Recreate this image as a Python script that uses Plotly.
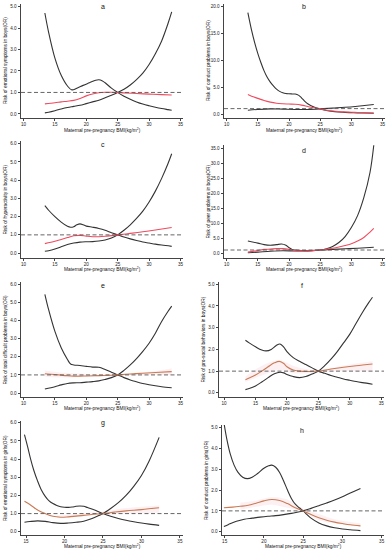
import plotly.graph_objects as go

W, H = 387, 550

# ---------------- data ----------------
# Panel a: emotional symptoms, boys
a_up_x = [13.4, 14, 15, 16, 17, 17.7, 18.5, 19.5, 20.5, 21.5, 22, 22.5, 23, 24, 25, 26, 27, 28, 29, 30, 31, 32, 33, 33.6]
a_up_y = [4.7, 3.8, 2.6, 1.8, 1.3, 1.12, 1.2, 1.33, 1.45, 1.57, 1.59, 1.55, 1.45, 1.2, 1.0, 0.82, 0.68, 0.56, 0.46, 0.38, 0.31, 0.25, 0.2, 0.17]
a_lo_x = [13.4, 14, 15, 16, 17, 18, 19, 20, 21, 22, 23, 24, 25, 26, 27, 28, 29, 30, 31, 32, 33, 33.6]
a_lo_y = [0.05, 0.08, 0.15, 0.23, 0.3, 0.35, 0.4, 0.48, 0.56, 0.64, 0.75, 0.87, 1.0, 1.15, 1.35, 1.6, 1.9, 2.3, 2.8, 3.4, 4.2, 4.75]
a_mid_x = [13.4, 15, 16, 17, 18, 19, 20, 21, 22, 23, 24, 25, 26, 28, 30, 32, 33.6]
a_mid_y = [0.47, 0.52, 0.56, 0.59, 0.63, 0.72, 0.84, 0.93, 0.99, 1.01, 1.01, 1.0, 0.98, 0.95, 0.92, 0.9, 0.88]

# Panel b: conduct problems, boys
b_up_x = [13.4, 14, 14.5, 15, 15.5, 16, 16.5, 17, 17.5, 18, 18.5, 19, 19.5, 20, 20.5, 21, 21.5, 22, 22.5, 23, 24, 25, 26, 27, 28, 29, 30, 31, 32, 33.6]
b_up_y = [18.8, 15.5, 13.2, 11.2, 9.5, 8.0, 6.8, 5.9, 5.2, 4.6, 4.2, 3.95, 3.8, 3.75, 3.72, 3.7, 3.5, 3.0, 2.4, 1.9, 1.3, 0.95, 0.65, 0.48, 0.38, 0.3, 0.25, 0.2, 0.18, 0.15]
b_lo_x = [13.4, 15, 17, 19, 21, 23, 25, 27, 29, 31, 33.6]
b_lo_y = [0.7, 0.85, 0.95, 0.9, 0.85, 0.85, 0.95, 1.1, 1.25, 1.45, 1.75]
b_mid_x = [13.4, 14, 15, 16, 17, 18, 19, 20, 21, 22, 23, 24, 25, 26, 27, 28, 29, 30, 31, 32, 33.6]
b_mid_y = [3.6, 3.3, 2.9, 2.5, 2.2, 2.0, 1.9, 1.85, 1.8, 1.65, 1.4, 1.15, 0.95, 0.7, 0.55, 0.45, 0.38, 0.32, 0.28, 0.25, 0.2]

# Panel c: hyperactivity, boys
c_up_x = [13.4, 14, 15, 16, 17, 17.5, 18, 18.5, 19, 19.5, 20, 21, 22, 23, 24, 25, 26, 27, 28, 29, 30, 31, 32, 33.6]
c_up_y = [2.6, 2.35, 2.0, 1.7, 1.47, 1.42, 1.45, 1.55, 1.6, 1.55, 1.48, 1.42, 1.35, 1.25, 1.12, 1.0, 0.88, 0.78, 0.69, 0.61, 0.55, 0.49, 0.44, 0.37]
c_lo_x = [13.4, 14, 15, 16, 17, 18, 19, 20, 21, 22, 23, 24, 25, 26, 27, 28, 29, 30, 31, 32, 33, 33.6]
c_lo_y = [0.1, 0.13, 0.22, 0.35, 0.47, 0.55, 0.6, 0.62, 0.63, 0.66, 0.72, 0.83, 1.0, 1.25, 1.55, 1.9, 2.3, 2.8, 3.4, 4.1, 4.9, 5.45]
c_mid_x = [13.4, 15, 16, 17, 18, 19, 20, 21, 22, 23, 24, 25, 27, 29, 31, 33.6]
c_mid_y = [0.52, 0.65, 0.75, 0.85, 0.95, 0.97, 0.93, 0.9, 0.9, 0.92, 0.96, 1.0, 1.08, 1.17, 1.27, 1.4]

# Panel d: peer problems, boys
d_up_x = [13.4, 15, 16, 17, 18, 18.8, 19.5, 20, 20.5, 21, 22, 23, 24, 25, 26, 27, 28, 29, 30, 31, 32, 33, 33.6]
d_up_y = [4.0, 3.3, 2.8, 2.6, 2.8, 3.0, 2.6, 1.8, 1.2, 1.0, 0.85, 0.8, 0.85, 1.0, 1.4, 2.2, 3.5, 5.5, 8.5, 12.5, 18.5, 27.0, 36.0]
d_lo_x = [13.4, 15, 17, 19, 21, 23, 25, 27, 29, 31, 33.6]
d_lo_y = [0.1, 0.3, 0.6, 0.75, 0.65, 0.7, 1.0, 1.2, 1.4, 1.6, 1.9]
d_mid_x = [13.4, 15, 16, 17, 18, 19, 20, 21, 22, 23, 24, 25, 26, 27, 28, 29, 30, 31, 32, 33, 33.6]
d_mid_y = [0.3, 0.8, 1.2, 1.3, 1.45, 1.45, 1.2, 0.8, 0.7, 0.7, 0.8, 1.0, 1.3, 1.6, 2.0, 2.5, 3.1, 4.0, 5.2, 7.0, 8.2]

# Panel e: total difficult problems, boys
e_up_x = [13.4, 14, 15, 16, 17, 17.5, 18, 19, 20, 21, 22, 23, 24, 25, 26, 27, 28, 29, 30, 31, 32, 33.6]
e_up_y = [5.45, 4.6, 3.4, 2.5, 1.85, 1.6, 1.55, 1.52, 1.47, 1.43, 1.42, 1.3, 1.15, 1.0, 0.85, 0.72, 0.62, 0.53, 0.46, 0.4, 0.35, 0.29]
e_lo_x = [13.4, 15, 16, 17, 18, 19, 20, 21, 22, 23, 24, 25, 26, 27, 28, 29, 30, 31, 32, 33, 33.6]
e_lo_y = [0.22, 0.35, 0.45, 0.53, 0.56, 0.57, 0.6, 0.63, 0.67, 0.75, 0.85, 1.0, 1.25, 1.55, 1.9, 2.3, 2.75, 3.3, 3.95, 4.5, 4.8]
e_mid_x = [13.4, 15, 17, 18, 19, 20, 22, 24, 25, 27, 29, 31, 33.6]
e_mid_y = [1.06, 1.02, 0.95, 0.93, 0.93, 0.94, 0.96, 0.98, 1.0, 1.05, 1.09, 1.13, 1.18]
e_band_x = [13.4, 17, 20, 23, 25, 28, 31, 33.6]
e_band_lo = [0.9, 0.85, 0.88, 0.92, 0.97, 0.98, 1.0, 1.0]
e_band_hi = [1.25, 1.1, 1.05, 1.03, 1.03, 1.12, 1.22, 1.35]

# Panel f: pro-social behaviors, boys
f_up_x = [13.4, 14, 15, 16, 16.7, 17.5, 18.3, 18.9, 19.5, 20, 21, 22, 23, 24, 25, 26, 27, 28, 29, 30, 31, 32, 33.6]
f_up_y = [2.42, 2.3, 2.12, 1.97, 1.93, 2.0, 2.18, 2.25, 2.1, 1.9, 1.62, 1.45, 1.3, 1.15, 1.0, 0.9, 0.8, 0.72, 0.64, 0.58, 0.52, 0.47, 0.4]
f_lo_x = [13.4, 14, 15, 16, 17, 18, 18.9, 19.5, 20, 21, 22, 23, 24, 25, 26, 27, 28, 29, 30, 31, 32, 33, 33.6]
f_lo_y = [0.15, 0.2, 0.32, 0.5, 0.7, 0.88, 0.95, 0.92, 0.85, 0.75, 0.7, 0.75, 0.87, 1.0, 1.25, 1.55, 1.9, 2.3, 2.7, 3.2, 3.7, 4.15, 4.4]
f_mid_x = [13.4, 14, 15, 16, 17, 18, 18.8, 19.5, 20, 21, 22, 23, 24, 25, 27, 29, 31, 33.6]
f_mid_y = [0.6, 0.68, 0.82, 1.0, 1.2, 1.38, 1.45, 1.35, 1.2, 1.05, 1.0, 0.98, 0.99, 1.0, 1.1, 1.18, 1.25, 1.33]
f_band_x = [13.4, 16, 18.8, 21, 23, 25, 28, 31, 33.6]
f_band_lo = [0.5, 0.8, 1.05, 0.9, 0.9, 0.95, 1.0, 1.0, 1.0]
f_band_hi = [0.75, 1.25, 1.5, 1.25, 1.1, 1.05, 1.2, 1.35, 1.45]

# Panel g: emotional symptoms, girls
g_up_x = [14.8, 15.2, 15.6, 16, 16.5, 17, 17.5, 18, 18.5, 19, 19.5, 20, 20.5, 21, 21.5, 22, 22.5, 23, 24, 25, 26, 27, 28, 29, 30, 31, 32.3]
g_up_y = [5.35, 4.7, 4.0, 3.4, 2.8, 2.3, 1.95, 1.7, 1.55, 1.45, 1.38, 1.35, 1.34, 1.36, 1.4, 1.42, 1.4, 1.33, 1.18, 1.0, 0.85, 0.73, 0.63, 0.55, 0.48, 0.42, 0.35]
g_lo_x = [14.8, 15.5, 16.5, 17.5, 18.5, 19.5, 20.5, 21.5, 22.5, 23.5, 24.5, 25, 26, 27, 28, 29, 30, 31, 32.3]
g_lo_y = [0.52, 0.56, 0.6, 0.57, 0.5, 0.46, 0.48, 0.52, 0.58, 0.72, 0.9, 1.0, 1.28, 1.6, 2.0, 2.5, 3.1, 3.9, 5.2]
g_mid_x = [14.8, 15.5, 16.5, 17.5, 18.5, 19.5, 20.5, 21.5, 22.5, 23.5, 25, 26.5, 28, 30, 32.3]
g_mid_y = [1.68, 1.5, 1.2, 1.0, 0.85, 0.8, 0.82, 0.86, 0.9, 0.95, 1.0, 1.08, 1.15, 1.22, 1.32]
g_band_x = [19, 21, 23, 25, 27, 29, 32.3]
g_band_lo = [0.78, 0.8, 0.88, 0.95, 0.98, 1.0, 1.05]
g_band_hi = [0.9, 0.95, 1.05, 1.1, 1.25, 1.35, 1.45]

# Panel h: conduct problems, girls
h_up_x = [14.9, 15.3, 15.7, 16.2, 16.7, 17.3, 17.9, 18.5, 19.2, 20, 20.6, 21, 21.5, 22, 22.5, 23, 23.5, 24, 24.5, 25, 25.5, 26, 27, 28, 29, 30, 31, 32.3]
h_up_y = [5.25, 4.4, 3.75, 3.2, 2.85, 2.62, 2.55, 2.62, 2.8, 3.05, 3.17, 3.2, 3.1, 2.85, 2.45, 2.0, 1.6, 1.32, 1.15, 1.0, 0.82, 0.65, 0.42, 0.28, 0.19, 0.13, 0.09, 0.05]
h_lo_x = [14.9, 15.5, 16.5, 17.5, 18.5, 19.5, 20.5, 21.5, 22.5, 23.5, 24.5, 25, 26, 27, 28, 29, 30, 31, 32.3]
h_lo_y = [0.25, 0.35, 0.5, 0.6, 0.65, 0.7, 0.74, 0.77, 0.82, 0.88, 0.96, 1.0, 1.12, 1.25, 1.38, 1.52, 1.68, 1.86, 2.08]
h_mid_x = [14.9, 16, 17, 18, 19, 20, 21, 22, 23, 24, 25, 26, 27, 28, 29, 30, 31, 32.3]
h_mid_y = [1.15, 1.18, 1.22, 1.27, 1.37, 1.48, 1.55, 1.5, 1.35, 1.15, 1.0, 0.82, 0.67, 0.55, 0.46, 0.39, 0.33, 0.28]
h_band_x = [17, 19, 21, 23, 25, 27, 29, 32.3]
h_band_lo = [1.05, 1.2, 1.3, 1.15, 0.95, 0.55, 0.4, 0.25]
h_band_hi = [1.4, 1.5, 1.65, 1.55, 1.1, 0.85, 0.6, 0.4]

letters = ["a", "b", "c", "d", "e", "f", "g", "h"]
ylabels = [
    "Risk of emotional symptoms in boys(OR)",
    "Risk of conduct problems in boys(OR)",
    "Risk of hyperactivity in boys(OR)",
    "Risk of peer problems in boys(OR)",
    "Risk of total difficult problems in boys(OR)",
    "Risk of pro-social behaviors in boys(OR)",
    "Risk of emotional symptoms in girls(OR)",
    "Risk of conduct problems in girls(OR)",
]
xlabel = "Maternal pre-pregnancy BMI(kg/m<sup>2</sup>)"
xticks_boys = [10, 15, 20, 25, 30, 35]
xticks_girls = [15, 20, 25, 30, 35]

# ---------------- layout (pixel boxes) ----------------
panels = [
    dict(box=(21, 183, 4, 118), xr=[9.6, 35.4], yr=[-0.19, 5.12], dt=1, xt=xticks_boys, mid="red",
         up=(a_up_x, a_up_y), lo=(a_lo_x, a_lo_y), md=(a_mid_x, a_mid_y), band=None, lt=(103, 7), xl=130),
    dict(box=(224, 385, 4, 118), xr=[9.57, 35.4], yr=[-0.74, 20.4], dt=5, xt=xticks_boys, mid="red",
         up=(b_up_x, b_up_y), lo=(b_lo_x, b_lo_y), md=(b_mid_x, b_mid_y), band=None, lt=(304, 7), xl=130),
    dict(box=(21, 183, 141, 258), xr=[9.6, 35.4], yr=[-0.27, 6.15], dt=1, xt=xticks_boys, mid="red",
         up=(c_up_x, c_up_y), lo=(c_lo_x, c_lo_y), md=(c_mid_x, c_mid_y), band=None, lt=(103, 144), xl=269),
    dict(box=(224, 385, 145, 258), xr=[9.57, 35.4], yr=[-1.67, 36.1], dt=5, xt=xticks_boys, mid="red",
         up=(d_up_x, d_up_y), lo=(d_lo_x, d_lo_y), md=(d_mid_x, d_mid_y), band=None, lt=(304, 150), xl=269),
    dict(box=(21, 183, 282, 397), xr=[9.6, 35.4], yr=[-0.22, 6.13], dt=1, xt=xticks_boys, mid="brown",
         up=(e_up_x, e_up_y), lo=(e_lo_x, e_lo_y), md=(e_mid_x, e_mid_y), band=(e_band_x, e_band_lo, e_band_hi), lt=(103, 285), xl=407.5),
    dict(box=(219, 384, 282, 397), xr=[9.2, 35.43], yr=[-0.19, 5.1], dt=1, xt=xticks_boys, mid="brown",
         up=(f_up_x, f_up_y), lo=(f_lo_x, f_lo_y), md=(f_mid_x, f_mid_y), band=(f_band_x, f_band_lo, f_band_hi), lt=(302, 285), xl=407.5),
    dict(box=(21, 183, 421, 535), xr=[14.35, 35.4], yr=[-0.18, 6.1], dt=1, xt=xticks_girls, mid="brown",
         up=(g_up_x, g_up_y), lo=(g_lo_x, g_lo_y), md=(g_mid_x, g_mid_y), band=(g_band_x, g_band_lo, g_band_hi), lt=(103, 423), xl=546),
    dict(box=(222, 384, 425, 535), xr=[14.66, 35.3], yr=[-0.16, 5.13], dt=1, xt=xticks_girls, mid="brown",
         up=(h_up_x, h_up_y), lo=(h_lo_x, h_lo_y), md=(h_mid_x, h_mid_y), band=(h_band_x, h_band_lo, h_band_hi), lt=(302, 430), xl=546),
]

COL = {"red": "#ef4b5e", "brown": "#c97b55"}
BLACK = "#333333"
FONT = "Liberation Sans, Arial, sans-serif"

fig = go.Figure()
layout = {}
shapes = []
annotations = []

for i, p in enumerate(panels):
    n = i + 1
    sx = "" if n == 1 else str(n)
    xa, ya = "x" + sx, "y" + sx
    x0, x1, yt, yb = p["box"]
    dx = [x0 / W, x1 / W]
    dy = [1 - yb / H, 1 - yt / H]
    layout["xaxis" + sx] = dict(
        domain=dx, range=p["xr"], anchor=ya, tickvals=p["xt"], showgrid=False, zeroline=False,
        showline=True, linecolor="#444", linewidth=0.8, ticks="outside", ticklen=2, tickwidth=0.8,
        tickcolor="#444", tickfont=dict(size=4.6, color="#222", family=FONT), fixedrange=True, automargin=False)
    layout["yaxis" + sx] = dict(
        domain=dy, range=p["yr"], anchor=xa, dtick=p["dt"], tick0=0, tickformat=".1f", showgrid=False,
        zeroline=False, showline=True, linecolor="#444", linewidth=0.8, ticks="outside", ticklen=2.5,
        tickwidth=0.8, tickcolor="#444", tickfont=dict(size=4.6, color="#222", family=FONT), fixedrange=True,
        automargin=False)

    if p["band"] is not None:
        bx, blo, bhi = p["band"]
        fig.add_trace(go.Scatter(x=bx, y=blo, xaxis=xa, yaxis=ya, mode="lines",
                                 line=dict(width=0, shape="spline"), hoverinfo="skip", showlegend=False))
        fig.add_trace(go.Scatter(x=bx, y=bhi, xaxis=xa, yaxis=ya, mode="lines", fill="tonexty",
                                 fillcolor="rgba(245,160,180,0.16)", line=dict(width=0, shape="spline"),
                                 hoverinfo="skip", showlegend=False))

    shapes.append(dict(type="line", xref=xa + " domain", yref=ya, x0=0, x1=1, y0=1, y1=1,
                       line=dict(color="#555", width=0.9, dash="4px,2.5px")))

    for key, col in (("up", BLACK), ("lo", BLACK), ("md", COL[p["mid"]])):
        xs, ys = p[key]
        fig.add_trace(go.Scatter(x=xs, y=ys, xaxis=xa, yaxis=ya, mode="lines",
                                 line=dict(color=col, width=1.1, shape="spline", smoothing=1.0),
                                 showlegend=False, hoverinfo="skip"))

    lx, ly = p["lt"]
    annotations.append(dict(x=lx / W, y=1 - ly / H, xref="paper", yref="paper", text=letters[i],
                            showarrow=False, font=dict(size=7, color="#111", family=FONT),
                            xanchor="center", yanchor="middle"))
    annotations.append(dict(x=(x0 + x1) / 2 / W, y=1 - p["xl"] / H, xref="paper", yref="paper",
                            text=xlabel, showarrow=False, font=dict(size=4.8, color="#111", family=FONT),
                            xanchor="center", yanchor="middle"))
    annotations.append(dict(x=(x0 - 16) / W, y=1 - (yt + yb) / 2 / H, xref="paper", yref="paper",
                            text=ylabels[i], textangle=-90, showarrow=False,
                            font=dict(size=4.8, color="#111", family=FONT), xanchor="center", yanchor="middle"))

fig.update_layout(**layout)
fig.update_layout(width=W, height=H, margin=dict(l=0, r=0, t=0, b=0), plot_bgcolor="white",
                  paper_bgcolor="white", shapes=shapes, annotations=annotations, showlegend=False)

fig.write_html("out.html", config={"displayModeBar": False},
               post_script="document.body.style.margin='0px';document.body.style.overflow='hidden';")
